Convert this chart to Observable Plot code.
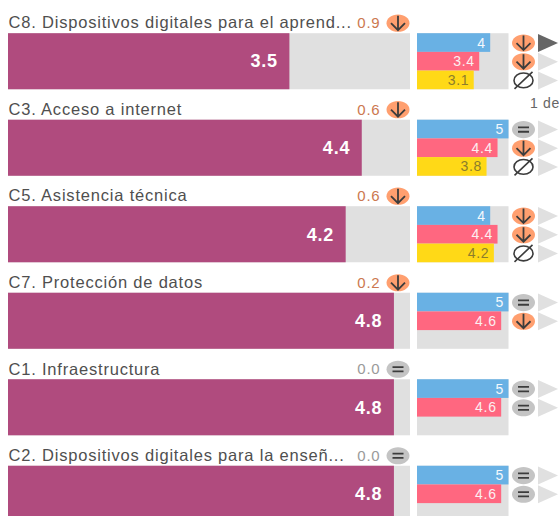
<!DOCTYPE html>
<html><head><meta charset="utf-8">
<script src="https://cdn.jsdelivr.net/npm/d3@7"></script>
<script src="https://cdn.jsdelivr.net/npm/@observablehq/plot@0.6"></script>
<style>
html,body{margin:0;padding:0;width:559px;height:516px;overflow:hidden;background:#fff}
#wrap{position:relative;width:559px;height:516px;overflow:hidden}
#wrap svg{position:absolute;top:0;background:transparent}
</style></head><body><div id="wrap"></div>
<script>
const categories = ["C8","C3","C5","C7","C1","C2"];
const titles = ["C8. Dispositivos digitales para el aprend...","C3. Acceso a internet","C5. Asistencia técnica","C7. Protección de datos","C1. Infraestructura","C2. Dispositivos digitales para la enseñ..."];
const mainValues = [3.5,4.4,4.2,4.8,4.8,4.8];
const deltas = ["0.9","0.6","0.6","0.2","0.0","0.0"];
const deltaIcons = ["down","down","down","down","eq","eq"];
const seriesA = [4,5,4,5,5,5];
const seriesB = [3.4,4.4,4.4,4.6,4.6,4.6];
const seriesC = [3.1,3.8,4.2,null,null,null];
const iconsA = ["down","eq","down","eq","eq","eq"];
const iconsB = ["down","down","down","down","eq","eq"];
const iconsC = ["none","none","none",null,null,null];
const seriesNames = ["A","B","C"];
const seriesColors = ["#69B1E4","#FF6780","#FFD917"];
const seriesText = ["#F4F8FC","#FCEFF1","#8C7D2C"];
const pageLabel = "1 de";

const rows = categories.map((c,i)=>({c,title:titles[i],value:mainValues[i],delta:deltas[i],icon:deltaIcons[i]}));
const mini = categories.flatMap((c,i)=>[[seriesA,iconsA],[seriesB,iconsB],[seriesC,iconsC]].map(([v,ic],k)=>({c,s:seriesNames[k],value:v[i],icon:ic[i],k,first:i===0&&k===0}))).filter(d=>d.value!=null);

const RX=11.5, RY=8.6;
const ell=(ctx)=>{const a=RX,b=RY,kx=a*.5523,ky=b*.5523;ctx.moveTo(-a,0);ctx.bezierCurveTo(-a,-ky,-kx,-b,0,-b);ctx.bezierCurveTo(kx,-b,a,-ky,a,0);ctx.bezierCurveTo(a,ky,kx,b,0,b);ctx.bezierCurveTo(-kx,b,-a,ky,-a,0);ctx.closePath();};
const blob={draw(ctx){ell(ctx);}};
const arrow={draw(ctx){ctx.moveTo(0,-7.5);ctx.lineTo(0,7);ctx.moveTo(-7,0);ctx.lineTo(0,7);ctx.lineTo(7,0);}};
const equal={draw(ctx){ctx.moveTo(-5.5,-2.2);ctx.lineTo(5.5,-2.2);ctx.moveTo(-5.5,2.2);ctx.lineTo(5.5,2.2);}};
const empty={draw(ctx){const a=9.5,b=7.4,kx=a*.5523,ky=b*.5523;ctx.moveTo(-a,0);ctx.bezierCurveTo(-a,-ky,-kx,-b,0,-b);ctx.bezierCurveTo(kx,-b,a,-ky,a,0);ctx.bezierCurveTo(a,ky,kx,b,0,b);ctx.bezierCurveTo(-kx,b,-a,ky,-a,0);ctx.closePath();ctx.moveTo(-9,8.5);ctx.lineTo(9,-8.5);}};
const tri={draw(ctx){ctx.moveTo(-10,-9);ctx.lineTo(10,0);ctx.lineTo(-10,9);ctx.closePath();}};
const INK="#3c3c3c";
function iconMarks(data,o){
  const f=k=>data.filter(d=>d.icon===k);
  return [
    Plot.dot(f("down"),{...o,symbol:blob,r:5,fill:"#FF9F6F",stroke:"none"}),
    Plot.dot(f("eq"),{...o,symbol:blob,r:5,fill:"#C4C4C4",stroke:"none"}),
    Plot.dot(f("down"),{...o,symbol:arrow,r:5,fill:"none",stroke:INK,strokeWidth:1.8}),
    Plot.dot(f("eq"),{...o,symbol:equal,r:5,fill:"none",stroke:INK,strokeWidth:1.8}),
    Plot.dot(f("none"),{...o,symbol:empty,r:5,fill:"none",stroke:INK,strokeWidth:1.6})
  ];
}
const fyOpts={domain:categories,paddingInner:0.352,paddingOuter:0,axis:null,label:null,round:false};
const H=516, BOTTOM=-5.8, TOP=33.2;

const left=Plot.plot({
  width:414,height:H,marginLeft:8,marginRight:4,marginTop:TOP,marginBottom:BOTTOM,
  style:{fontFamily:"'Liberation Sans',Arial,sans-serif",background:"transparent",overflow:"visible",letterSpacing:"0.8px"},
  x:{domain:[0,5],axis:null},
  fy:fyOpts,
  marks:[
    Plot.barX(rows,{fy:"c",x1:()=>0,x2:()=>5,fill:"#E0E0E0"}),
    Plot.barX(rows,{fy:"c",x1:()=>0,x2:"value",fill:"#B04B7E"}),
    Plot.text(rows,{fy:"c",x:"value",text:d=>d.value.toFixed(1),textAnchor:"end",dx:-12,fill:"#fff",fontWeight:"bold",fontSize:18}),
    Plot.text(rows,{fy:"c",text:"title",frameAnchor:"top-left",textAnchor:"start",lineAnchor:"middle",dy:-10.5,fill:"#4f4f4f",fontSize:16.5}),
    Plot.text(rows,{fy:"c",text:"delta",frameAnchor:"top-right",textAnchor:"end",lineAnchor:"middle",dy:-10.5,dx:-30,fontSize:15,fill:d=>d.icon==="eq"?"#9a9a9a":"#CC7850"}),
    ...iconMarks(rows,{fy:"c",frameAnchor:"top-right",dx:-12.5,dy:-10.5})
  ]
});
left.style.left="0px";

const right=Plot.plot({
  width:145,height:H,marginLeft:3,marginRight:50.5,marginTop:TOP,marginBottom:BOTTOM,
  style:{fontFamily:"'Liberation Sans',Arial,sans-serif",background:"transparent",overflow:"visible",letterSpacing:"0.7px"},
  x:{domain:[0,5],axis:null},
  y:{domain:seriesNames,axis:null,padding:0,round:false},
  fy:fyOpts,
  marks:[
    Plot.barX(rows,{fy:"c",x1:()=>0,x2:()=>5,fill:"#E0E0E0"}),
    Plot.barX(mini,{fy:"c",y:"s",x1:()=>0,x2:"value",fill:d=>seriesColors[d.k]}),
    Plot.text(mini,{fy:"c",y:"s",x:"value",text:d=>String(d.value),textAnchor:"end",dx:-5,fontSize:14,fill:d=>seriesText[d.k]}),
    ...iconMarks(mini,{fy:"c",y:"s",x:()=>5,dx:14.5}),
    Plot.dot(mini,{fy:"c",y:"s",x:()=>5,dx:39,symbol:tri,r:5,fill:d=>d.first?"#666666":"#E0E0E0",stroke:"none"}),
    Plot.text([{c:"C8"}],{fy:"c",x:()=>5,frameAnchor:"bottom",lineAnchor:"middle",dy:14,textAnchor:"start",text:()=>pageLabel,dx:21,fontSize:14,fill:"#666"})
  ]
});
right.style.left="414px";
document.getElementById("wrap").append(left,right);
</script></body></html>
